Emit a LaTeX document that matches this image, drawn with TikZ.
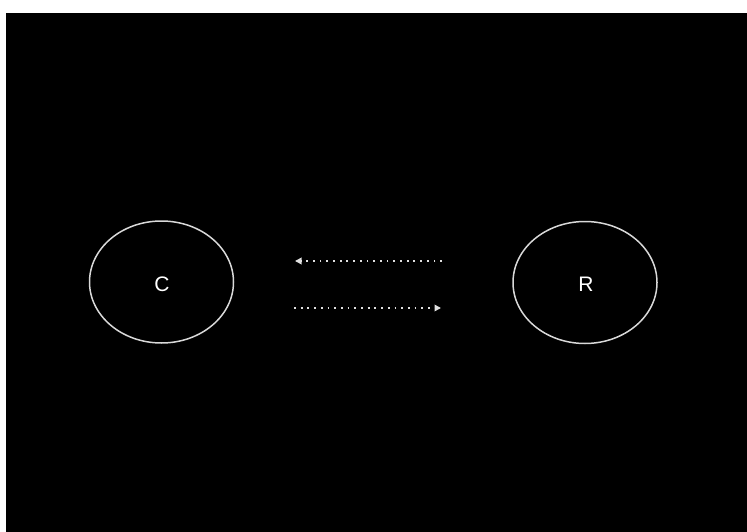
\documentclass[tikz,border=0pt]{standalone}
\usepackage{fontspec}
\setmainfont{Liberation Sans}
\usetikzlibrary{arrows.meta,shapes.geometric}
\tikzset{
  ring/.style={draw=white!85!black, line width=1.5pt, ellipse, minimum width=144pt, minimum height=122pt, inner sep=0pt},
  lbl/.style={text=white, inner sep=0pt, font=\fontsize{21}{24}\selectfont},
  dotline/.style={draw=white!88!black, line width=1.8pt, dash pattern=on 1.8pt off 4.9pt, -{Triangle[width=6.5pt,length=6.5pt]}}
}
\begin{document}
\begin{tikzpicture}[x=1pt,y=-1pt]
\useasboundingbox (0,0) rectangle (747,532);
\fill[white] (0,0) rectangle (747,532);
\fill[black] (6,13) rectangle (747,532);
\node[ring] (c) at (161.5,282) {};
\node[ring] (r) at (585,282.5) {};
\node[lbl] (ct) at (162,284) {C};
\node[lbl] (rt) at (586,284) {R};
\coordinate (a1s) at (442,261);
\coordinate (a1e) at (295,261);
\coordinate (a2s) at (294,308);
\coordinate (a2e) at (441,308);
\draw[dotline] (a1s) -- (a1e);
\draw[dotline] (a2s) -- (a2e);
\end{tikzpicture}
\end{document}
